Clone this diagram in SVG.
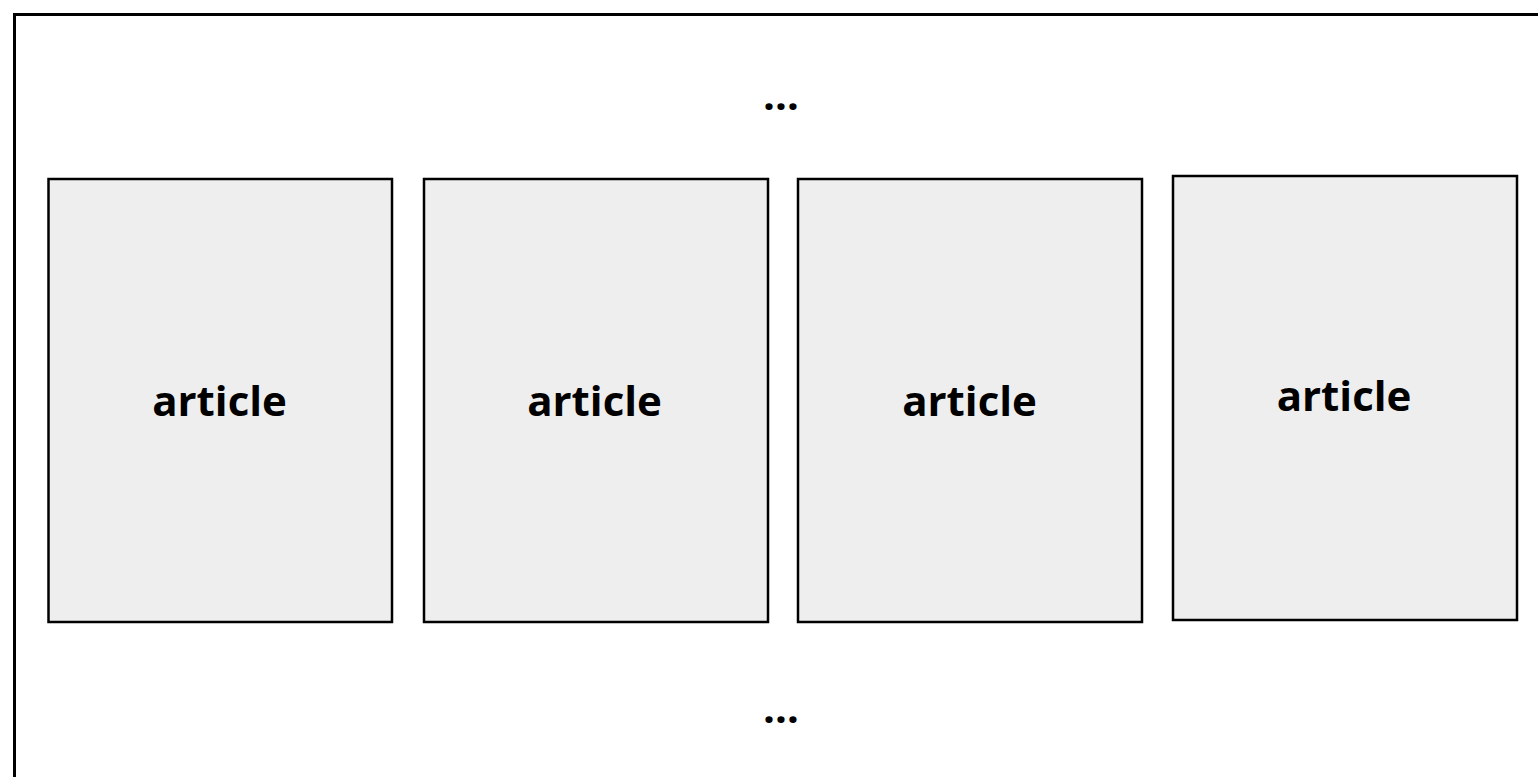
<svg xmlns="http://www.w3.org/2000/svg" width="1538" height="777" viewBox="0 0 1538 777">
<style>
.box{fill:#eeeeee;stroke:#000;stroke-width:2.5}
.lbl{font-family:"Open Sans","Noto Sans",sans-serif;font-weight:bold;font-size:42px;fill:#000;text-anchor:middle}
</style>
<rect x="0" y="0" width="1538" height="777" fill="#fff"/>
<g id="container">
<rect x="14.5" y="14.5" width="1540" height="780" fill="#fff" stroke="#000" stroke-width="3"/>
<text class="lbl" x="781" y="110">…</text>
<text class="lbl" x="781" y="723">…</text>
</g>
<g id="article1"><rect class="box" x="48.5" y="179" width="343.5" height="443"/><text class="lbl" x="219.5" y="416">article</text></g>
<g id="article2"><rect class="box" x="424" y="179" width="344" height="443"/><text class="lbl" x="594.5" y="416">article</text></g>
<g id="article3"><rect class="box" x="798" y="179" width="344" height="443"/><text class="lbl" x="969.5" y="416">article</text></g>
<g id="article4"><rect class="box" x="1173" y="176" width="344" height="444"/><text class="lbl" x="1344" y="411">article</text></g>
<g id="connectors"></g>
</svg>
